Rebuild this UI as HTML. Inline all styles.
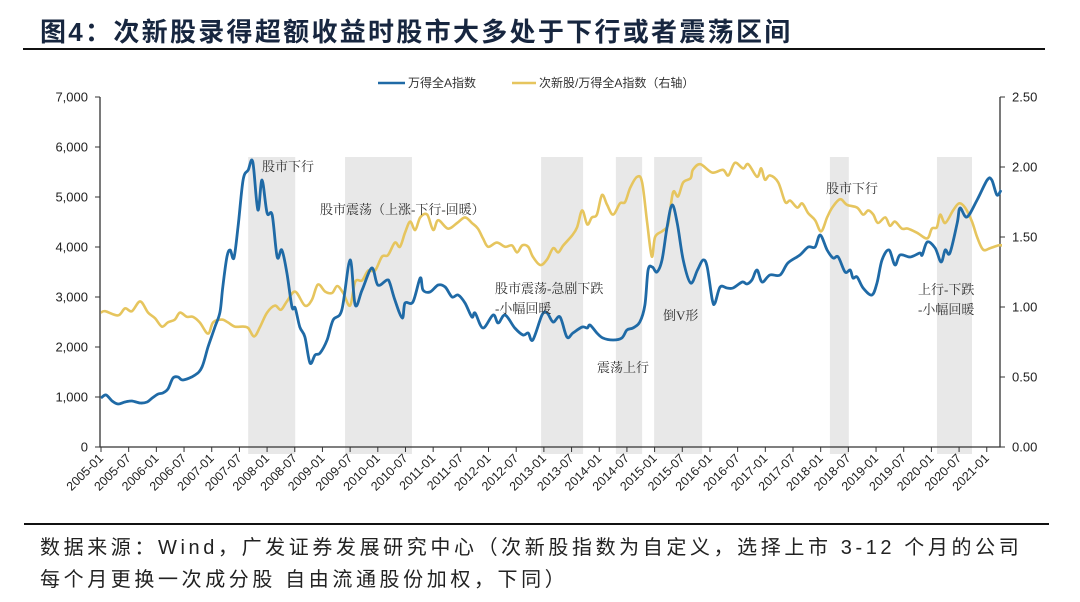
<!DOCTYPE html>
<html><head><meta charset="utf-8"><style>
body{margin:0;background:#fff;width:1080px;height:602px;overflow:hidden;position:relative;font-family:"Liberation Sans","Noto Sans CJK SC",sans-serif}
#title{position:absolute;left:40px;top:12px;font-size:26px;font-weight:bold;color:#17263f;letter-spacing:2.3px;font-family:"Liberation Sans","Noto Sans CJK SC",sans-serif;white-space:nowrap}
#rule1{position:absolute;left:23px;top:48px;width:1022px;height:2px;background:#111}
#rule2{position:absolute;left:24px;top:523px;width:1025px;height:2px;background:#111}
.note{position:absolute;left:40px;font-size:20px;color:#222;white-space:nowrap;letter-spacing:3.6px}
svg{position:absolute;left:0;top:0}
</style></head><body>
<div id="title">图4：次新股录得超额收益时股市大多处于下行或者震荡区间</div>
<div id="rule1"></div>
<svg id="chart" width="1080" height="602"></svg>
<div id="rule2"></div>
<div class="note" style="top:531px">数据来源：Wind，广发证券发展研究中心（次新股指数为自定义，选择上市 3-12 个月的公司</div>
<div class="note" style="top:563px">每个月更换一次成分股 自由流通股份加权，下同）</div>
<script>
const xTickLabels=["2005-01","2005-07","2006-01","2006-07","2007-01","2007-07","2008-01","2008-07","2009-01","2009-07","2010-01","2010-07","2011-01","2011-07","2012-01","2012-07","2013-01","2013-07","2014-01","2014-07","2015-01","2015-07","2016-01","2016-07","2017-01","2017-07","2018-01","2018-07","2019-01","2019-07","2020-01","2020-07","2021-01"];
const leftTicks=[0,1000,2000,3000,4000,5000,6000,7000];
const rightTicks=[0,0.5,1,1.5,2,2.5];
const blueMonths=[0,1.1,2.4,3.7,5.2,6.7,8.5,10,11.1,12.4,13.4,14.5,15.6,16.7,17.8,20.4,21.9,23.2,24.7,25.8,26.4,27.3,28,28.8,29.7,30.8,31.9,32.9,34,34.9,36,37.1,38.2,39.2,40.3,41.4,42.1,43.1,44.2,45.3,46.4,47.5,49,50.3,52.2,54,55.1,56.6,58.7,60,62,62.6,63.7,65.3,65.9,67.6,69.2,69.8,71.3,73.1,74.6,76.1,77.4,78.9,80.4,81.1,82.8,85,86.1,87.6,89.7,91.5,92.6,93.6,95.6,96.7,98,99.5,101,102.3,104.3,105.4,106,107.5,108.8,111,112.9,114,115.3,116.8,117.9,118.6,119.5,120.5,121.6,122.7,123.8,124.9,126.2,127.8,129.3,130.5,131.4,132.5,133.1,134.2,135.7,137,139,140,141.1,142.2,143.3,145,147.2,148.9,151.5,153.3,154.8,155.9,157.4,158.7,159.8,161.3,162.4,163,163.9,165.2,167.1,168.2,169.3,170.8,172.1,173.2,175.4,177.5,178,179.1,180.8,182.1,183,184,185.6,186.2,187.7,189.9,192.1,193.1,194.2,195.1];
const blueValues=[980,1040,920,860,900,920,880,900,980,1060,1080,1160,1380,1400,1340,1440,1600,2000,2400,2700,3200,3800,3940,3780,4400,5340,5540,5700,4740,5340,4680,4640,3800,3940,3480,2800,2780,2400,2200,1680,1840,1880,2140,2540,2740,3740,2840,3140,3580,3240,3340,3280,2940,2580,2880,2900,3380,3140,3100,3240,3200,3000,3040,2880,2600,2680,2380,2640,2480,2640,2380,2240,2280,2140,2640,2680,2500,2600,2200,2280,2400,2380,2440,2280,2180,2140,2180,2340,2380,2500,2840,3540,3600,3500,3740,4400,4840,4480,3740,3280,3540,3740,3600,2940,2880,3200,3180,3180,3300,3260,3340,3540,3300,3440,3440,3680,3840,4000,4000,4240,3940,3780,3800,3500,3540,3380,3400,3180,3040,3280,3740,3940,3640,3840,3800,3880,3840,4100,3980,3700,3940,3880,4480,4780,4600,4940,5340,5340,5040,5140];
const yellowMonths=[0,0.9,3.7,5.2,6.7,8.5,10.2,11.7,13.2,14.5,16,17.1,18.6,19.9,21.4,23.2,24.3,26.2,27.5,29,30.8,31.9,33.2,34.5,36,37.7,39,40.3,42.1,44.2,45.7,47,48.6,50.1,51.2,52.5,54,55.1,56.6,57.9,59.4,60.9,62.2,63.7,64.8,65.9,67,68.1,69.2,70.7,72,73.1,75.2,77.2,78.9,80.4,81.7,82.8,83.9,85.8,87.6,89.1,90.2,91.3,92.6,93.6,95.2,96.7,98,99.1,100.2,102.1,103.2,104.3,105.4,106.4,107.5,108.6,109.7,111,112.5,113.6,114.7,116.2,117.3,118.4,119.4,120.1,121.6,122.7,123.1,124,125.1,126.2,127.8,128.3,129.9,132.5,134.8,136,137.4,139.2,140.3,142.2,143.1,143.9,145,146.8,148.3,149.4,150.9,152,153.3,154.8,156.1,157.4,158.5,160.2,161.7,163.9,165.2,166.3,167.4,168.4,170,171,172.1,173.6,174.9,176.9,179.1,180.1,181.2,181.9,183,184.7,186,187.3,188.8,189.9,191.2,192.7,194.5,195.3];
const yellowValues=[0.96,0.97,0.94,0.99,0.97,1.04,0.96,0.92,0.86,0.89,0.91,0.96,0.93,0.93,0.89,0.81,0.89,0.91,0.89,0.86,0.86,0.85,0.79,0.86,0.96,1.01,0.98,1.04,1.11,1.01,1.05,1.16,1.11,1.10,1.15,1.10,1.01,1.18,1.19,1.26,1.26,1.36,1.37,1.46,1.43,1.53,1.61,1.55,1.64,1.66,1.55,1.62,1.56,1.60,1.64,1.60,1.56,1.49,1.43,1.46,1.43,1.44,1.39,1.44,1.43,1.36,1.30,1.34,1.42,1.39,1.44,1.51,1.57,1.69,1.59,1.64,1.66,1.80,1.73,1.66,1.74,1.75,1.85,1.93,1.89,1.60,1.36,1.50,1.54,1.57,1.62,1.82,1.79,1.89,1.92,1.98,2.02,1.96,1.98,1.94,2.03,1.99,2.02,1.93,1.99,1.91,1.94,1.89,1.75,1.76,1.71,1.74,1.67,1.62,1.54,1.64,1.71,1.77,1.73,1.71,1.66,1.69,1.66,1.60,1.64,1.58,1.61,1.56,1.56,1.53,1.49,1.56,1.57,1.66,1.60,1.69,1.74,1.71,1.61,1.50,1.41,1.42,1.44,1.44];
const bandStarts=[31.9,52.9,95.4,111.6,119.9,158.0,181.2];
const bandEnds=[42.1,67.4,104.5,117.3,130.3,162.1,188.8];
const annotations=[["股市下行",262,171],["股市震荡（上涨-下行-回暖）",320,214],["股市震荡-急剧下跌",495,293],["-小幅回暖",495,313],["震荡上行",597,372],["倒V形",663,320],["股市下行",826,193],["上行-下跌",918,294],["-小幅回暖",918,314]];

const NS="http://www.w3.org/2000/svg";
const svg=document.getElementById('chart');
const X0=101,XW=27.68/6,PL=100,PR=1000,PT=97,PB=447;
const xs=m=>X0+m*XW;
const yl=v=>PB-(v/7000)*(PB-PT);
const yr=v=>PB-(v/2.5)*(PB-PT);
function el(tag,attrs){const e=document.createElementNS(NS,tag);for(const k in attrs)e.setAttribute(k,attrs[k]);svg.appendChild(e);return e;}
bandStarts.forEach((s,i)=>{
  const r=el('rect',{x:xs(s),y:157,width:xs(bandEnds[i])-xs(s),height:297,fill:'#e8e8e8'});
  
  
});
const ax=el('path',{d:`M${PL} ${PT}V${PB}H${PR}V${PT}`,fill:'none',stroke:'#333','stroke-width':1.3});


leftTicks.forEach(v=>{
  el('line',{x1:PL-5,x2:PL,y1:yl(v),y2:yl(v),stroke:'#333'});
  const t=el('text',{x:88,y:yl(v)+4.5,'text-anchor':'end','font-size':13,fill:'#222'});
  t.textContent=v.toLocaleString('en-US');
  
  
});
rightTicks.forEach(v=>{
  el('line',{x1:PR,x2:PR+5,y1:yr(v),y2:yr(v),stroke:'#333'});
  const t=el('text',{x:1012,y:yr(v)+4.5,'font-size':13,fill:'#222'});
  t.textContent=v.toFixed(2);
  
  
});
xTickLabels.forEach((lab,i)=>{
  const x=xs(i*6);
  el('line',{x1:x,x2:x,y1:PB,y2:PB+5,stroke:'#333'});
  const t=el('text',{x:x+3,y:PB+12,'text-anchor':'end','font-size':12.5,fill:'#222',transform:`rotate(-45 ${x+3} ${PB+12})`});
  t.textContent=lab;
  
  
});
function smooth(pts){
  let d=`M${pts[0][0]} ${pts[0][1]}`;
  for(let i=0;i<pts.length-1;i++){
    const p0=pts[i-1]||pts[i],p1=pts[i],p2=pts[i+1],p3=pts[i+2]||p2;
    const c1=[p1[0]+(p2[0]-p0[0])/6,p1[1]+(p2[1]-p0[1])/6];
    const c2=[p2[0]-(p3[0]-p1[0])/6,p2[1]-(p3[1]-p1[1])/6];
    d+=`C${c1[0].toFixed(1)} ${c1[1].toFixed(1)} ${c2[0].toFixed(1)} ${c2[1].toFixed(1)} ${p2[0].toFixed(1)} ${p2[1].toFixed(1)}`;
  }
  return d;
}
const yPath=el('path',{d:smooth(yellowMonths.map((m,i)=>[xs(m),yr(yellowValues[i])])),fill:'none',stroke:'#e6c55e','stroke-width':2.6,'stroke-linejoin':'round'});


const bPath=el('path',{d:smooth(blueMonths.map((m,i)=>[xs(m),yl(blueValues[i])])),fill:'none',stroke:'#1f6aa6','stroke-width':2.8,'stroke-linejoin':'round'});


annotations.forEach(a=>{
  const t=el('text',{x:a[1],y:a[2],'font-size':13,fill:'#333','font-family':'"Liberation Serif","Noto Serif CJK SC",serif'});
  t.textContent=a[0];
  
  
});
const l1=el('line',{x1:378,x2:405,y1:83,y2:83,stroke:'#1f6aa6','stroke-width':2.5});


const lt1=el('text',{x:408,y:87,'font-size':12,fill:'#333'});lt1.textContent='万得全A指数';


const l2=el('line',{x1:512,x2:536,y1:83,y2:83,stroke:'#e6c55e','stroke-width':2.5});


const lt2=el('text',{x:539,y:87,'font-size':12,fill:'#333'});lt2.textContent='次新股/万得全A指数（右轴）';


</script>
</body></html>
